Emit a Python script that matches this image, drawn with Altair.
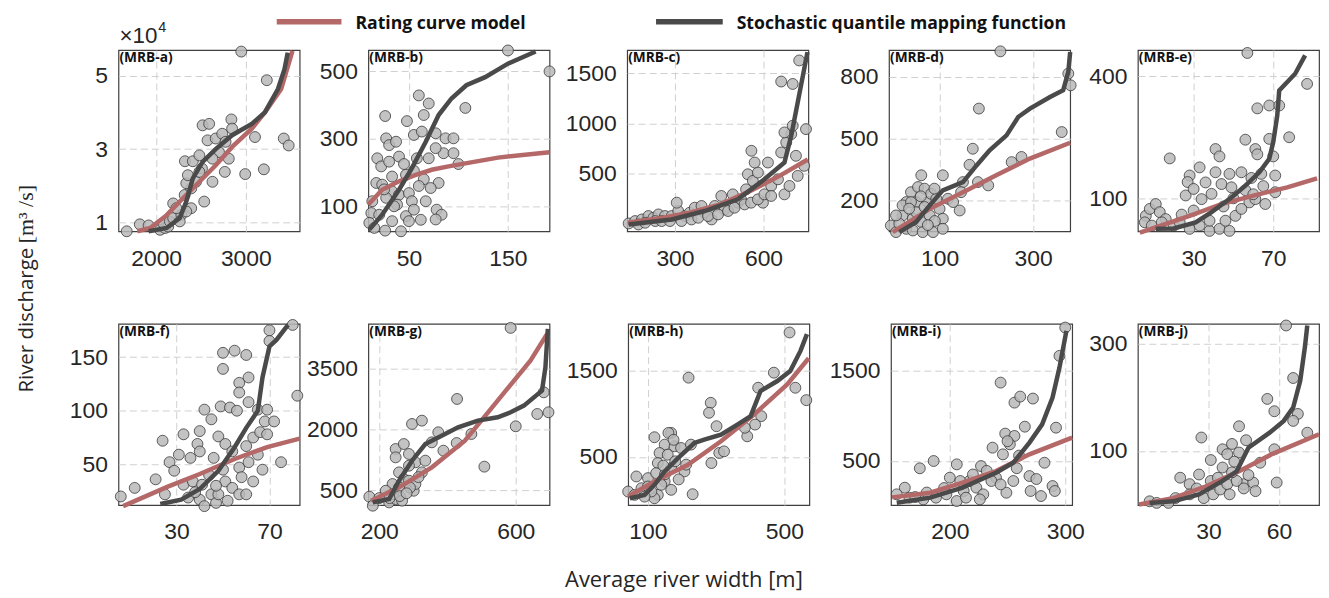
import altair as alt
import pandas as pd

# ---------------- data ----------------
# each entry: [average river width (m), river discharge (m3/s)]
A_PTS = [[1672,7600],[1818,9500],[1916,9200],[2044,8000],[2099,8500],[2135,8900],[2080,9800],[2153,10300],
         [2190,11200],[2190,15200],[2281,12100],[2318,17500],[2391,19300],[2336,20700],[2354,22900],[2321,26700],
         [2409,26700],[2482,28300],[2511,24700],[2536,15700],[2518,36500],[2591,36900],[2573,32400],[2664,32900],
         [2701,29200],[2737,34200],[2839,38100],[2774,32000],[2810,27400],[2766,23800],[2628,21100],[2993,23200],
         [3201,24500],[3102,33300],[2949,56600],[3234,48800],[3423,32900],[3478,31000],[2445,21100],[2628,27400],
         [2482,23800],[2391,13900],[2263,10300],[2336,13000],[2226,13900],[2847,35600]]
A_RC = [[1790,7600],[1934,8500],[2117,12000],[2299,16600],[2482,21100],[2664,25600],[2847,30600],[3066,35600],
        [3212,40000],[3394,46400],[3520,56800]]
A_SQ = [[1916,7600],[2117,8500],[2263,11200],[2336,15700],[2409,22000],[2518,26500],[2664,30000],[2847,33800],
        [3066,36900],[3212,40000],[3358,46400],[3431,51800],[3467,56300]]

B_PTS = [[150,561],[192,499],[107,391],[60,428],[70,404],[65,370],[26,367],[48,352],[27,301],[30,281],[37,291],
         [40,247],[18,242],[22,218],[55,311],[63,321],[77,316],[87,301],[95,301],[85,257],[95,257],[100,225],
         [77,272],[70,242],[58,242],[47,193],[33,188],[17,169],[23,164],[80,169],[72,154],[33,144],[40,134],
         [50,139],[13,115],[27,125],[38,105],[53,115],[67,115],[12,80],[20,75],[47,71],[78,90],[83,75],[77,61],
         [10,51],[15,36],[26,28],[42,26],[33,56],[50,56],[30,232],[45,225],[55,205],[65,180],[60,160],[35,100],
         [55,90],[62,60],[25,150]]
B_RC = [[9,105],[23,149],[40,174],[57,193],[73,208],[90,218],[107,227],[140,244],[192,260]]
B_SQ = [[10,31],[23,75],[40,149],[53,213],[67,291],[80,370],[93,419],[108,458],[127,482],[150,522],[178,558]]

C_PTS = [[143,3],[165,27],[188,43],[210,77],[227,60],[244,93],[266,77],[289,77],[311,127],[306,210],[334,77],
         [350,110],[367,160],[390,177],[401,110],[424,43],[435,177],[457,277],[468,143],[496,293],[513,210],
         [524,243],[541,343],[547,493],[564,427],[581,510],[570,610],[615,610],[598,210],[626,377],[649,443],
         [671,293],[688,377],[660,710],[677,810],[694,893],[671,910],[699,977],[744,943],[710,677],[738,577],
         [716,477],[660,1417],[699,1393],[721,1627],[559,727],[176,-7],[199,10],[233,27],[255,27],[283,27],
         [322,27],[356,43],[379,60],[412,77],[446,93],[480,127],[502,160],[536,193],[558,210],[581,243],
         [603,293],[626,277]]
C_RC = [[140,10],[250,55],[350,110],[450,190],[550,320],[650,470],[750,640]]
C_SQ = [[143,-7],[289,43],[401,127],[513,243],[603,443],[671,610],[694,877],[716,1210],[738,1543],[749,1710]]

D_PTS = [[230,924],[184,646],[171,451],[164,373],[107,322],[61,322],[150,289],[182,289],[204,273],[146,240],
         [143,151],[254,386],[275,411],[361,532],[375,816],[380,759],[-4,78],[7,46],[21,127],[29,192],[39,240],
         [50,192],[54,265],[68,257],[75,192],[82,232],[93,208],[100,159],[107,111],[79,127],[61,95],[43,111],
         [29,62],[43,54],[64,46],[86,46],[107,62],[14,87],[21,176],[50,143],[68,168],[7,127],[118,208],[129,192],
         [89,257],[39,192],[60,220],[35,160],[90,100],[75,80]]
D_RC = [[0,46],[79,159],[150,240],[221,322],[293,403],[379,480]]
D_SQ = [[14,46],[50,95],[79,176],[107,249],[150,289],[179,370],[207,443],[243,516],[268,605],[293,646],
        [336,702],[364,735],[375,824],[379,921]]

E_PTS = [[57,457],[87,381],[62,321],[68,328],[73,328],[78,250],[18,198],[41,221],[43,203],[56,244],[68,246],
         [61,221],[62,208],[70,203],[33,176],[28,156],[27,140],[36,139],[41,164],[48,160],[54,164],[59,150],
         [64,160],[71,156],[44,135],[49,127],[56,120],[26,107],[30,123],[34,98],[39,111],[58,90],[61,98],[66,86],
         [71,115],[6,57],[8,74],[11,86],[13,66],[16,49],[20,33],[23,41],[28,25],[33,33],[38,20],[43,25],[48,20],
         [46,45],[51,57],[38,45],[54,74],[5.5,41],[9,33],[14,41],[24,60],[30,70],[45,80],[50,100],[65,130],[60,110]]
E_RC = [[3,16],[28,57],[44,86],[61,108],[77,127],[92,149]]
E_SQ = [[11,25],[20,26],[31,41],[39,66],[49,102],[56,131],[63,164],[68,197],[70,238],[72,303],[73,365],
        [81,406],[86,451]]

F_PTS = [[80,180],[70,175],[70,165],[50,154],[55,156],[60,152],[50,139],[61,131],[57,126],[57,117],[49,104],
         [53,103],[56,100],[42,101],[45,92],[61,108],[65,101],[69,101],[68,90],[72,90],[82,114],[24,72],[33,78],
         [40,81],[31,59],[36,56],[27,52],[29,44],[39,69],[40,62],[46,56],[48,76],[51,69],[54,62],[60,67],[63,75],
         [66,80],[69,78],[75,52],[67,45],[63,34],[6,20],[12,28],[21,36],[25,22],[33,31],[37,34],[41,31],[45,22],
         [40,17],[42,11],[47,14],[48,22],[51,34],[54,28],[57,22],[60,22],[52,16],[35,19],[57,47],[61,52],[65,59],
         [44,40],[50,45],[58,38],[47,30],[38,24]]
F_RC = [[7,11],[26,29],[40,41],[55,55],[69,66],[83,74]]
F_SQ = [[23,13],[32,17],[40,27],[48,44],[55,66],[60,84],[65,100],[67,131],[70,160],[73,166],[78,180]]

G_PTS = [[585,4517],[428,2756],[296,2136],[325,2219],[373,1930],[354,1682],[388,1475],[427,1665],[470,1888],
         [508,1079],[600,2079],[663,2384],[696,2426],[682,2921],[248,1517],[272,1640],[287,1393],[248,1310],
         [306,1186],[335,1227],[325,938],[258,938],[287,1103],[272,773],[239,649],[258,566],[301,483],[287,731],
         [171,335],[181,112],[219,483],[229,194],[248,277],[267,236],[306,649],[315,820],[240,400],[260,350],
         [290,560],[200,300],[230,300],[280,420]]
G_RC = [[176,236],[258,566],[354,1062],[451,1723],[547,2715],[643,3707],[692,4368]]
G_SQ = [[181,194],[229,277],[258,731],[296,1227],[335,1640],[383,1847],[431,2054],[489,2219],[547,2302],
        [585,2426],[624,2591],[677,2963],[687,3541],[694,4492]]

H_PTS = [[515,1947],[219,1422],[469,1480],[532,1305],[564,1161],[423,1305],[432,975],[414,877],[391,741],
         [384,840],[284,1130],[279,1014],[301,858],[309,547],[323,566],[286,430],[231,68],[119,730],[168,780],
         [149,644],[178,625],[197,605],[226,644],[134,547],[158,527],[129,430],[168,372],[207,333],[66,274],
         [100,255],[124,313],[149,216],[168,119],[129,60],[119,21],[42,99],[61,60],[81,138],[100,158],[139,177],
         [212,411],[180,450],[150,300],[110,100],[90,40],[145,400],[190,240],[160,780],[175,700]]
H_RC = [[42,41],[119,216],[217,410],[314,683],[411,994],[508,1344],[571,1648]]
H_SQ = [[47,21],[90,60],[119,177],[149,333],[188,488],[236,663],[265,702],[314,761],[362,877],[401,975],
        [430,1267],[479,1383],[517,1500],[547,1733],[566,1928]]

I_PTS = [[300,1981],[295,1667],[244,1370],[256,1148],[261,1215],[272,1193],[265,881],[292,870],[248,804],
         [256,778],[237,648],[252,685],[246,574],[174,419],[186,500],[206,463],[227,444],[282,481],[269,333],
         [255,278],[240,315],[289,222],[291,167],[279,111],[270,167],[249,148],[161,204],[154,130],[165,93],
         [177,74],[188,93],[197,130],[206,56],[212,167],[217,278],[223,204],[229,130],[200,315],[209,278],
         [236,278],[214,93],[226,74],[260,560],[250,720],[232,390],[244,240],[258,420],[275,300],[220,350],
         [170,100],[180,150],[195,200]]
I_RC = [[150,96],[183,148],[211,259],[240,389],[269,574],[306,759]]
I_SQ = [[154,37],[183,93],[211,204],[240,370],[255,481],[269,704],[280,907],[289,1204],[295,1537],[301,1944]]

J_PTS = [[63,334],[66,236],[55,197],[58,174],[68,169],[66,156],[72,134],[43,146],[46,120],[27,125],[36,103],
         [40,113],[43,97],[38,94],[31,83],[36,69],[58,103],[52,78],[59,41],[18,50],[26,56],[31,44],[22,38],
         [45,38],[49,41],[50,25],[5,6],[8,3],[13,3],[16,12],[22,19],[28,12],[32,19],[35,28],[38,38],[42,44],
         [39,19],[45,30],[40,60],[34,50],[25,30],[47,55],[41,80]]
J_RC = [[0.5,0],[15,12],[29,34],[43,62],[57,94],[77,131]]
J_SQ = [[5,3],[15,6],[26,19],[36,44],[42,62],[47,106],[56,134],[62,156],[66,181],[69,231],[71,294],[72,334]]

# axis limits and tick values per panel
X_DOM = {"a": [1580, 3600], "b": [9, 192], "c": [138, 752], "d": [-8, 379], "e": [2, 93],
         "f": [5, 83], "g": [168, 699], "h": [42, 573], "i": [149, 306], "j": [0, 77]}
Y_DOM = {"a": [7600, 57000], "b": [26, 562], "c": [-75, 1730], "d": [50, 930], "e": [19, 464],
         "f": [12, 181], "g": [128, 4616], "h": [-58, 2047], "i": [11, 2022], "j": [-1, 337]}
X_TICKS = {"a": [2000, 3000], "b": [50, 150], "c": [300, 600], "d": [100, 300], "e": [30, 70],
           "f": [30, 70], "g": [200, 600], "h": [100, 500], "i": [200, 300], "j": [30, 60]}
Y_TICKS = {"a": [10000, 30000, 50000], "b": [100, 300, 500], "c": [500, 1000, 1500], "d": [200, 500, 800],
           "e": [100, 400], "f": [50, 100, 150], "g": [500, 2000, 3500], "h": [500, 1500], "i": [500, 1500],
           "j": [100, 300]}
SERIES = {"a": (A_PTS, A_RC, A_SQ), "b": (B_PTS, B_RC, B_SQ), "c": (C_PTS, C_RC, C_SQ),
          "d": (D_PTS, D_RC, D_SQ), "e": (E_PTS, E_RC, E_SQ), "f": (F_PTS, F_RC, F_SQ),
          "g": (G_PTS, G_RC, G_SQ), "h": (H_PTS, H_RC, H_SQ), "i": (I_PTS, I_RC, I_SQ),
          "j": (J_PTS, J_RC, J_SQ)}
LEGEND_LABELS = ["Rating curve model", "Stochastic quantile mapping function"]

# ---------------- styling ----------------
RED = "#b46868"
DARK = "#4a4a4a"
W = 182
H = 182
ROW1_GAPS = [69, 78, 81, 68]
ROW2_GAPS = [69, 79, 82, 66]
ROW_PITCH = 275
SANS = "Open Sans"


def txt(s, x, y, **kw):
    return alt.Chart(pd.DataFrame({"t": [s]})).mark_text(**kw).encode(
        x=alt.value(x), y=alt.value(y), text="t:N")


def panel(tag, extras=()):
    pts, rc, sq = SERIES[tag]
    if tag == "a":
        yax = alt.Axis(values=Y_TICKS[tag], title=None, labelExpr="format(datum.value / 10000, 'd')")
    else:
        yax = alt.Axis(values=Y_TICKS[tag], title=None, format="d")
    X = alt.X("w:Q", scale=alt.Scale(domain=X_DOM[tag], nice=False, zero=False),
              axis=alt.Axis(values=X_TICKS[tag], title=None, format="d"))
    Y = alt.Y("q:Q", scale=alt.Scale(domain=Y_DOM[tag], nice=False, zero=False), axis=yax)
    p = alt.Chart(pd.DataFrame(pts, columns=["w", "q"])).mark_circle(
        size=120, fill="#b9b9b9", fillOpacity=0.85, stroke="#333333", strokeWidth=0.9,
        strokeOpacity=0.85).encode(x=X, y=Y)
    r = alt.Chart(pd.DataFrame(rc, columns=["w", "q"])).mark_line(
        color=RED, strokeWidth=4.5).encode(x=X, y=Y)
    s = alt.Chart(pd.DataFrame(sq, columns=["w", "q"])).mark_line(
        color=DARK, strokeWidth=4.5).encode(x=X, y=Y)
    lab = txt(f"(MRB-{tag})", 1, 1, align="left", baseline="top", font=SANS,
              fontWeight="bold", fontSize=13.8, color="#111111")
    return alt.layer(p, r, s, lab, *extras).properties(width=W, height=H)


def spacer(w):
    return alt.Chart(pd.DataFrame({"z": [0]})).mark_point(opacity=0).properties(
        width=w, height=H, view=alt.ViewBackground(stroke="transparent"))


def rule(x1, x2, y, color):
    return alt.Chart(pd.DataFrame({"z": [0]})).mark_rule(color=color, strokeWidth=5.5).encode(
        x=alt.value(x1), x2=alt.value(x2), y=alt.value(y))


extras_a = [
    alt.Chart(pd.DataFrame({"z": [0]})).mark_point(opacity=0, size=1).encode(
        x=alt.value(-117), y=alt.value(-47)),
    rule(159, 224, -28.5, RED),
    rule(540, 607, -28.5, DARK),
    txt(LEGEND_LABELS[0], 238, -21, align="left", baseline="alphabetic", font=SANS,
        fontWeight="bold", fontSize=17.7, color="#111111"),
    txt(LEGEND_LABELS[1], 621, -21, align="left", baseline="alphabetic", font=SANS,
        fontWeight="bold", fontSize=17.7, color="#111111"),
    txt("\u00d710", 1, -7, align="left", baseline="alphabetic", font="Liberation Sans",
        fontSize=22.5, color="#262626"),
    txt("4", 40, -18, align="left", baseline="alphabetic", font="Liberation Sans",
        fontSize=14.5, color="#262626"),
    txt("River discharge", -86, 344, align="left", baseline="alphabetic", angle=270,
        font=SANS, fontSize=20.5, color="#262626"),
    txt("[m\u00b3 /s]", -86, 194, align="left", baseline="alphabetic", angle=270,
        font="Liberation Serif", fontSize=22, color="#262626"),
]
extras_h = [
    txt("Average river width [m]", 56, 264, align="center", baseline="alphabetic",
        font=SANS, fontSize=22, color="#262626"),
]

row1_items = []
for k, tag in enumerate("abcde"):
    if k > 0:
        row1_items.append(spacer(ROW1_GAPS[k - 1]))
    row1_items.append(panel(tag, extras_a if tag == "a" else ()))
row2_items = []
for k, tag in enumerate("fghij"):
    if k > 0:
        row2_items.append(spacer(ROW2_GAPS[k - 1]))
    row2_items.append(panel(tag, extras_h if tag == "h" else ()))

row1 = alt.hconcat(*row1_items, spacing=0, bounds="flush")
row2 = alt.hconcat(*row2_items, spacing=0, bounds="flush")

# nested rows count as zero height under flush bounds, so the spacing is the row pitch
chart = alt.vconcat(row1, row2, spacing=ROW_PITCH, bounds="flush").properties(
    padding=0, background="white"
).configure_view(
    stroke="#404040", strokeWidth=1.2
).configure_axis(
    labelFont="Liberation Sans", labelFontSize=23, labelColor="#262626",
    ticks=False, domain=False, grid=True, gridColor="#d0d0d0", gridDash=[7, 4], gridWidth=1
).configure_axisX(labelPadding=16).configure_axisY(labelPadding=11)

chart.save("out.html", embed_options={"renderer": "svg", "actions": False})
